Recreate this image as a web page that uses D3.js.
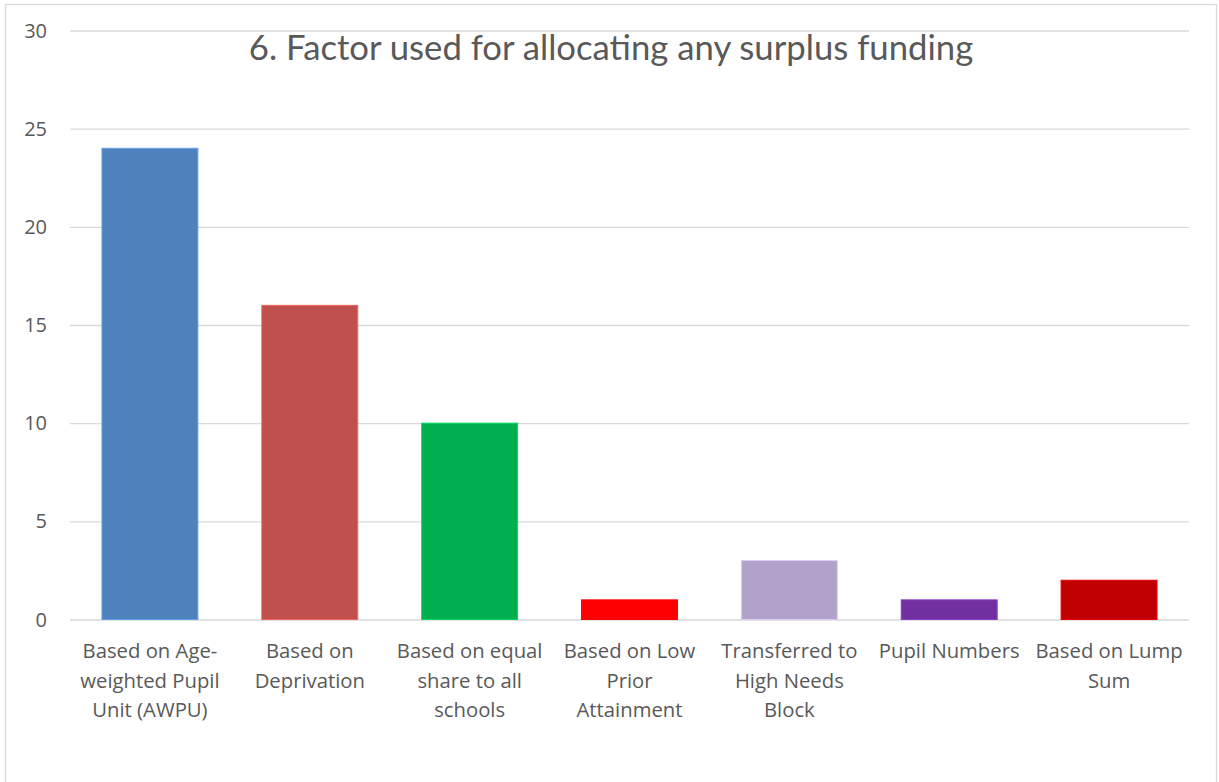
<!DOCTYPE html>
<meta charset="utf-8">
<title>Surplus funding factor</title>
<style>

body {
  margin: 0px;
  background: #fff;
}

text {
  font-family: "Open Sans", Lato, sans-serif;
  fill: #595959;
}

.title {
  font-family: Lato, "Open Sans", sans-serif;
}

.grid line {
  stroke: #d9d9d9;
  stroke-width: 1.3;
}

</style>

<script src="https://cdnjs.cloudflare.com/ajax/libs/d3/7.8.5/d3.min.js"></script>

<body>

<script>

var width = 1219, height = 782;

// chart data
var categories = [
  "Based on Age-weighted Pupil Unit (AWPU)",
  "Based on Deprivation",
  "Based on equal share to all schools",
  "Based on Low Prior Attainment",
  "Transferred to High Needs Block",
  "Pupil Numbers",
  "Based on Lump Sum"
];
var values = [24, 16, 10, 1, 3, 1, 2];
var barColors = ["#4f81bd", "#c0504d", "#00b050", "#ff0000", "#b3a2c7", "#7030a0", "#c00000"];
var labelLines = [
  ["Based on Age-", "weighted Pupil", "Unit (AWPU)"],
  ["Based on", "Deprivation"],
  ["Based on equal", "share to all", "schools"],
  ["Based on Low", "Prior", "Attainment"],
  ["Transferred to", "High Needs", "Block"],
  ["Pupil Numbers"],
  ["Based on Lump", "Sum"]
];
var yTicks = [0, 5, 10, 15, 20, 25, 30];

var margin = {left: 70, right: 30, top: 30.5, bottom: 162.5};

var svg = d3.select("body").append("svg")
    .attr("width", width)
    .attr("height", height);

// outer chart border
svg.append("rect")
    .attr("x", 5.5)
    .attr("y", 4.5)
    .attr("width", 1211)
    .attr("height", 800)
    .attr("fill", "#fff")
    .attr("stroke", "#d9d9d9")
    .attr("stroke-width", 1.3);

var x = d3.scaleBand()
    .domain(categories)
    .range([margin.left, width - margin.right])
    .paddingInner(0.4)
    .paddingOuter(0.2);

var y = d3.scaleLinear()
    .domain([0, 30])
    .range([height - margin.bottom, margin.top]);

// gridlines
var grid = svg.append("g")
    .attr("class", "grid")
    .attr("transform", "translate(" + margin.left + ",0)")
    .call(d3.axisLeft(y).tickValues(yTicks)
      .tickSize(-(width - margin.right - margin.left)).tickFormat(""));
grid.select(".domain").remove();

// y tick labels
svg.append("g")
    .selectAll("text")
    .data(yTicks)
  .enter().append("text")
    .attr("x", 47)
    .attr("y", function(d) { return y(d); })
    .attr("dy", "0.35em")
    .attr("text-anchor", "end")
    .style("font-size", "20px")
    .text(function(d) { return d; });

// bars
svg.append("g")
    .selectAll("rect")
    .data(values)
  .enter().append("rect")
    .attr("x", function(d, i) { return x(categories[i]); })
    .attr("y", function(d) { return y(d); })
    .attr("width", x.bandwidth())
    .attr("height", function(d) { return y(0) - y(d); })
    .attr("fill", function(d, i) { return barColors[i]; })
    .attr("stroke", function(d, i) { return d3.color(barColors[i]).brighter(0.6); })
    .attr("stroke-width", 1);

// category labels
var labels = svg.append("g")
    .selectAll("text")
    .data(categories)
  .enter().append("text")
    .attr("text-anchor", "middle")
    .style("font-size", "20.3px")
    .attr("transform", function(d) {
      return "translate(" + (x(d) + x.bandwidth() / 2) + ",651)";
    });

labels.selectAll("tspan")
    .data(function(d, i) { return labelLines[i]; })
  .enter().append("tspan")
    .attr("x", 0)
    .attr("y", function(d, i) { return i * 29.5; })
    .attr("dy", "0.35em")
    .text(function(d) { return d; });

// title
svg.append("text")
    .attr("class", "title")
    .attr("x", 611)
    .attr("y", 48)
    .attr("dy", "0.35em")
    .attr("text-anchor", "middle")
    .style("font-size", "34.7px")
    .text("6. Factor used for allocating any surplus funding");

</script>
